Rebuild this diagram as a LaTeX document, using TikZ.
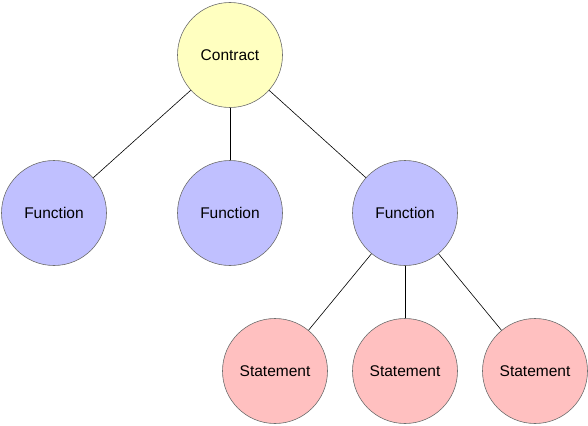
\documentclass[tikz,border=0pt]{standalone}
\usepackage{fontspec}
\setmainfont{Liberation Sans}
\definecolor{contractfill}{RGB}{255,255,192}
\definecolor{functionfill}{RGB}{192,192,255}
\definecolor{statementfill}{RGB}{255,192,192}
\definecolor{ringgray}{RGB}{110,110,110}
\tikzset{
	treenode/.style={draw=ringgray, line width=0.6pt, circle, minimum size=105pt, inner sep=0pt, font=\fontsize{15.5}{18}\selectfont},
	contract/.style={treenode, fill=contractfill},
	function/.style={treenode, fill=functionfill},
	statement/.style={treenode, fill=statementfill}
}
\begin{document}
\begin{tikzpicture}[x=1pt, y=-1pt]
			\useasboundingbox (0,0) rectangle (588,425);
			\node[contract]  (c)   at (230,55)	{Contract};
			\node[function]  (f1)  at (54,213)	{Function};
			\node[function]  (f2)  at (230,213)	{Function};
			\node[function]  (f3)  at (405,213)	{Function};
			\node[statement] (s1)  at (275,371)	{Statement};
			\node[statement] (s2)  at (405,371)	{Statement};
			\node[statement] (s3)  at (535,371)	{Statement};
			%
			\def\list {c/f1, c/f2, c/f3, f3/s1, f3/s2, f3/s3}  % list elements
			\foreach \u\v in \list
			{	\draw[line width=0.6pt] (\u) -- (\v);
			}
		\end{tikzpicture}
\end{document}
